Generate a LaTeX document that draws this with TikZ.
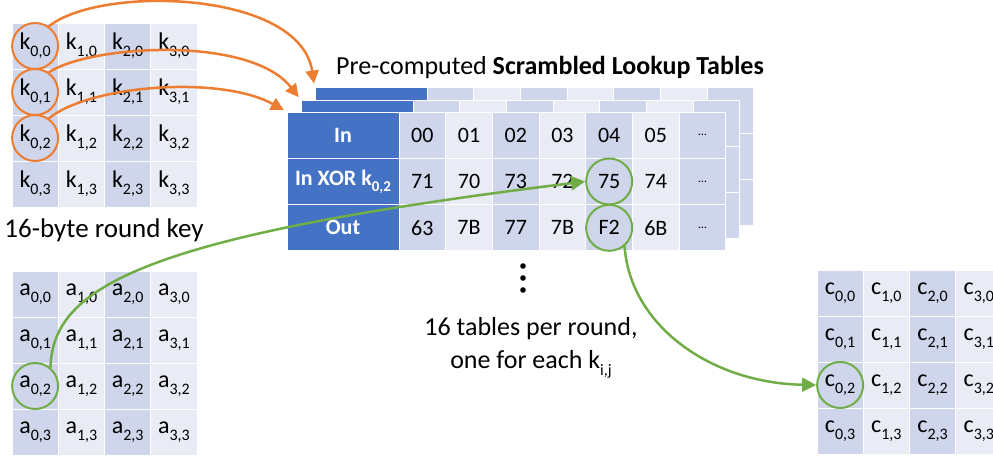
\documentclass[tikz,border=0pt]{standalone}
\usepackage{fontspec}
\setmainfont{Carlito}
\usetikzlibrary{arrows.meta}
\definecolor{hdr}{HTML}{4472C4}
\definecolor{cdark}{HTML}{CFD5EA}
\definecolor{clight}{HTML}{E9EBF5}
\definecolor{org}{HTML}{ED7D31}
\definecolor{grn}{HTML}{70AD47}
\newcommand\lsub[1]{\raisebox{-0.28em}{\fontsize{16}{16}\selectfont #1}}
\newcommand\hsub[1]{\raisebox{-0.28em}{\fontsize{15}{15}\selectfont #1}}
\begin{document}
\begin{tikzpicture}[x=1pt,y=-1pt,
  gcell/.style={draw=white,line width=1pt,inner sep=0pt,minimum width=46.25pt,minimum height=46pt,font=\fontsize{24}{24}\selectfont},
  tcell/.style={draw=white,line width=1pt,inner sep=0pt,minimum width=46.7pt,minimum height=46.33pt,font=\fontsize{22}{22}\selectfont},
  hcell/.style={draw=white,line width=1pt,inner sep=0pt,fill=hdr,minimum width=112pt,minimum height=46.33pt,text=white,font=\fontsize{22}{22}\selectfont\bfseries},
  ring/.style={circle,draw=#1,line width=2pt,minimum size=46pt,inner sep=0pt},
  oarr/.style={draw=org,line width=2.5pt,-{Triangle[length=13pt,width=13pt]},shorten >=3pt},
  garr/.style={draw=grn,line width=2.5pt,-{Triangle[length=14pt,width=14pt]}},
]
\useasboundingbox (0,0) rectangle (993,456);

% back tables
\foreach \t/\xo/\yo in {3/315/87, 2/301/100}{
  \foreach \r in {0,1,2}{
    \node[hcell] (t\t-h-\r) at ({\xo+56},{\yo+46.33*(\r+0.5)}) {};
    \foreach \c in {0,...,6}{
      \ifodd\c \def\cc{clight}\else\def\cc{cdark}\fi
      \node[tcell,fill=\cc] (t\t-\c-\r) at ({\xo+112+46.7*(\c+0.5)},{\yo+46.33*(\r+0.5)}) {};
    }
  }
}
% front table
\node[hcell] (t1-h-0) at (343,{112+46.33*0.5}) {In};
\node[hcell] (t1-h-1) at (343,{112+46.33*1.5}) {In XOR k\hsub{0,2}};
\node[hcell] (t1-h-2) at (343,{112+46.33*2.5}) {Out};
\foreach \c/\a/\b/\d in {0/00/71/63,1/01/70/7B,2/02/73/77,3/03/72/7B,4/04/75/F2,5/05/74/6B,6/{\fontsize{12}{12}\selectfont …}/{\fontsize{12}{12}\selectfont …}/{\fontsize{12}{12}\selectfont …}}{
  \ifodd\c \def\cc{clight}\else\def\cc{cdark}\fi
  \node[tcell,fill=\cc] (t1-\c-0) at ({399+46.7*(\c+0.5)},{112+46.33*0.5}) {\a};
  \node[tcell,fill=\cc] (t1-\c-1) at ({399+46.7*(\c+0.5)},{112+46.33*1.5}) {\b};
  \node[tcell,fill=\cc] (t1-\c-2) at ({399+46.7*(\c+0.5)},{112+46.33*2.5}) {\d};
}

% grids
\foreach \i in {0,1,2,3}{
  \foreach \j in {0,1,2,3}{
    \ifodd\i \def\cc{clight}\else\def\cc{cdark}\fi
    \node[gcell,fill=\cc] (k-\i-\j) at ({12+46.25*(\i+0.5)},{23+46*(\j+0.5)}) {k\lsub{\i,\j}};
    \node[gcell,fill=\cc] (a-\i-\j) at ({12+46.25*(\i+0.5)},{271+46*(\j+0.5)}) {a\lsub{\i,\j}};
    \node[gcell,fill=\cc] (c-\i-\j) at ({817+46.25*(\i+0.5)},{270+46*(\j+0.5)}) {c\lsub{\i,\j}};
  }
}

% texts
\node[font=\fontsize{26}{26}\selectfont] (title) at (550,67) {Pre-computed \textbf{Scrambled Lookup Tables}};
\node[font=\fontsize{27}{27}\selectfont] (keylbl) at (104,230) {16-byte round key};
\node[font=\fontsize{26}{33}\selectfont,align=center] (tbllbl) at (531,348) {16 tables per round,\\one for each k\lsub{i,j}};
\fill (523,266) circle (2.8pt) (523,278) circle (2.8pt) (523,290) circle (2.8pt);

% rings
\node[ring=org] (rk0) at (k-0-0) {};
\node[ring=org] (rk1) at (k-0-1) {};
\node[ring=org] (rk2) at (k-0-2) {};
\node[ring=grn] (ra) at (a-0-2) {};
\node[ring=grn] (r75) at (t1-4-1) {};
\node[ring=grn] (rf2) at (t1-4-2) {};
\node[ring=grn] (rc) at (c-0-2) {};

% arrows
\draw[oarr] (rk0.55) .. controls (100,-15) and (300,-10) .. (t3-h-0.north west);
\draw[oarr] (rk1.55) .. controls (90,45) and (250,35) .. (t2-h-0.north west);
\draw[oarr] (rk2.55) .. controls (90,85) and (220,75) .. (t1-h-0.north west);
\draw[garr] (ra.50) .. controls (52,285) and (150,235) .. (r75.west);
\draw[garr] (rf2.-50) .. controls (630,325) and (710,383) .. (rc.west);
\end{tikzpicture}
\end{document}
